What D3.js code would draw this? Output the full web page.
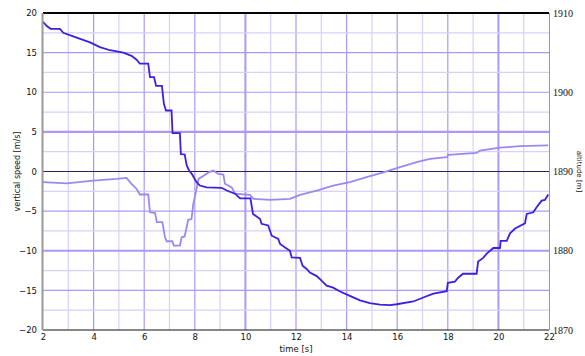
<!DOCTYPE html>
<html><head><meta charset="utf-8">
<script src="https://cdn.jsdelivr.net/npm/d3@7"></script>
<style>body{margin:0;background:#fff}svg{display:block}</style>
</head><body><svg id="c" width="585" height="356"></svg>
<script>
// Data (time in s, value in m/s ; altitude = 1890 + value)
const darkT = [2,2.15,2.3,2.67,2.8,3.33,3.86,4.25,4.65,5.17,5.5,5.7,5.83,6.16,6.23,6.39,6.47,6.7,6.78,6.86,7.08,7.12,7.41,7.45,7.6,7.68,7.78,7.88,8.07,8.2,8.47,9.06,9.26,9.59,9.79,10.2,10.3,10.58,10.64,10.9,11.04,11.3,11.37,11.57,11.76,11.83,12.16,12.26,12.42,12.55,12.82,13.02,13.21,13.47,13.74,14.13,14.53,14.92,15.32,15.72,15.98,16.64,17.03,17.43,17.96,18.0,18.28,18.41,18.6,19.14,19.2,19.4,19.53,19.8,20.06,20.09,20.33,20.46,20.66,21.05,21.12,21.38,21.51,21.71,21.84,21.97];
const darkV = [18.9,18.35,18.0,18.0,17.5,16.9,16.3,15.7,15.3,15.0,14.6,14.1,13.6,13.6,11.9,11.9,10.8,10.8,8.5,7.7,7.7,4.85,4.85,2.2,2.15,0.76,0.1,-0.3,-1.35,-1.77,-2.0,-2.06,-2.4,-2.8,-3.4,-3.4,-5.35,-6.0,-6.6,-6.8,-8.1,-8.5,-9.15,-9.6,-10.0,-10.85,-10.9,-11.9,-12.3,-12.75,-13.2,-13.8,-14.4,-14.65,-15.15,-15.7,-16.25,-16.6,-16.8,-16.85,-16.75,-16.4,-15.9,-15.4,-15.1,-14.05,-13.9,-13.4,-12.9,-12.9,-11.35,-10.9,-10.4,-9.65,-9.65,-8.75,-8.75,-7.8,-7.2,-6.55,-5.35,-5.15,-4.5,-3.67,-3.58,-2.9];
const lightT = [2,2.94,3.99,4.91,5.3,5.5,5.7,5.83,6.16,6.23,6.43,6.5,6.72,6.82,6.89,7.11,7.17,7.41,7.48,7.6,7.74,7.87,7.94,8.0,8.15,8.47,8.54,8.73,8.93,9.13,9.19,9.46,9.59,10.18,10.32,10.97,11.76,12.16,12.82,13.47,14.13,14.79,15.45,16.11,16.77,17.3,17.96,18.02,19.14,19.27,20.06,20.85,21.97];
const lightV = [-1.35,-1.5,-1.15,-0.93,-0.8,-1.55,-2.2,-2.9,-2.9,-5.15,-5.25,-6.4,-6.4,-8.3,-8.8,-8.8,-9.35,-9.35,-8.3,-8.2,-6.1,-6.0,-4.1,-3.25,-0.93,-0.3,-0.1,0.12,-0.3,-0.38,-1.55,-2.0,-2.8,-2.95,-3.45,-3.58,-3.45,-2.95,-2.4,-1.77,-1.35,-0.72,-0.1,0.55,1.18,1.6,1.8,2.1,2.35,2.65,3.0,3.2,3.3];
const xTicks = [2,4,6,8,10,12,14,16,18,20,22];
const yTicks = [-20,-15,-10,-5,0,5,10,15,20];
const altTicks = [1870,1880,1890,1900,1910];

const svg = d3.select("#c");
const L=43, R=549, T=13, B=330;
const x = d3.scaleLinear().domain([2,22]).range([L,R]);
const y = d3.scaleLinear().domain([-20,20]).range([B,T]);
const y2 = d3.scaleLinear().domain([1870,1910]).range([B,T]);
const font = "DejaVu Sans, Verdana, sans-serif";

const g = svg.append("g");
d3.range(3,22).forEach(t=>{
  const even = t%2===0;
  g.append("line").attr("x1",x(t)).attr("x2",x(t)).attr("y1",T).attr("y2",B)
    .attr("stroke", even? "#ad98f7":"#d9cffc")
    .attr("stroke-width", (t===10||t===20)?2:1.2);
});
d3.range(-17.5,20,2.5).forEach(v=>{
  if (v===0) return;
  const major = v%5===0;
  g.append("line").attr("x1",L).attr("x2",R).attr("y1",y(v)).attr("y2",y(v))
    .attr("stroke", major? "#ad98f7":"#d9cffc")
    .attr("stroke-width", (v===5||v===-10)?2.2:1.2);
});
g.append("line").attr("x1",L).attr("x2",R).attr("y1",y(0)).attr("y2",y(0)).attr("stroke","#2b2358").attr("stroke-width",1.2);

const line = d3.line().x(d=>x(d[0])).y(d=>y(d[1]));
svg.append("path").datum(lightT.map((t,i)=>[t,lightV[i]])).attr("d",line)
  .attr("fill","none").attr("stroke","#9d88f2").attr("stroke-width",1.8);
svg.append("path").datum(darkT.map((t,i)=>[t,darkV[i]])).attr("d",line)
  .attr("fill","none").attr("stroke","#3d1fe0").attr("stroke-width",1.8);

svg.append("line").attr("x1",L).attr("x2",R).attr("y1",T).attr("y2",T).attr("stroke","#000").attr("stroke-width",2.2);
svg.append("line").attr("x1",L).attr("x2",R).attr("y1",B).attr("y2",B).attr("stroke","#111").attr("stroke-width",1);
svg.append("line").attr("x1",L-0.5).attr("x2",L-0.5).attr("y1",T).attr("y2",B).attr("stroke","#999").attr("stroke-width",2);
svg.append("line").attr("x1",R+0.5).attr("x2",R+0.5).attr("y1",T).attr("y2",B).attr("stroke","#9a9a9a").attr("stroke-width",1);

const ax = d3.axisBottom(x).tickValues(xTicks).tickSize(0).tickPadding(4);
const axG = svg.append("g").attr("transform",`translate(0,${B})`).call(ax);
const ay = d3.axisLeft(y).tickValues(yTicks).tickSize(0).tickPadding(6);
const ayG = svg.append("g").attr("transform",`translate(${L},0)`).call(ay);
const ay2 = d3.axisRight(y2).tickValues(altTicks).tickFormat(d3.format("d")).tickSize(0).tickPadding(4);
const ay2G = svg.append("g").attr("transform",`translate(${R},0)`).call(ay2);
[axG,ayG].forEach(a=>{
  a.select(".domain").remove();
  a.selectAll("text").attr("font-family",font).attr("font-size",8.5).attr("fill","#111");
});
ay2G.select(".domain").remove();
ay2G.selectAll("text").attr("font-family","Liberation Serif, serif").attr("font-size",10).attr("fill","#111");

svg.append("text").attr("x",x(12)).attr("y",352).attr("text-anchor","middle")
  .attr("font-family",font).attr("font-size",8.5).attr("fill","#111").text("time [s]");
svg.append("text").attr("transform",`translate(20,${y(0)}) rotate(-90)`).attr("text-anchor","middle")
  .attr("font-family",font).attr("font-size",8).attr("fill","#111").text("vertical speed [m/s]");
svg.append("text").attr("transform",`translate(577,${y(0)}) rotate(90)`).attr("text-anchor","middle")
  .attr("font-family",font).attr("font-size",7).attr("fill","#111").text("altitude [m]");
</script></body></html>
